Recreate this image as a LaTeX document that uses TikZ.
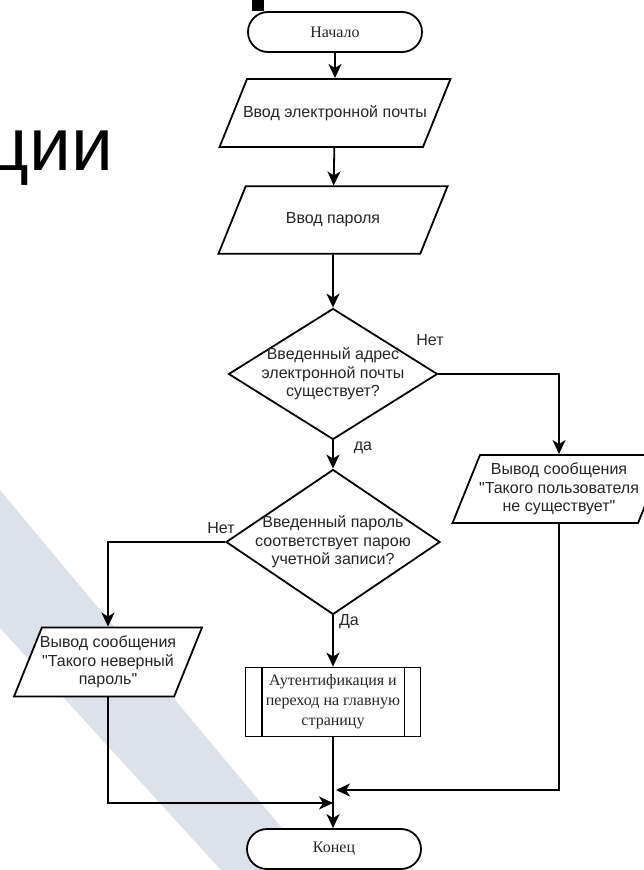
\documentclass[tikz,border=0pt]{standalone}
\usepackage{fontspec}
\setmainfont{Liberation Serif}
\newfontfamily\flowsans{Liberation Sans}
\usetikzlibrary{shapes.geometric,shapes.misc,arrows.meta}
\definecolor{stripegray}{RGB}{221,225,233}

\begin{document}
\begin{tikzpicture}[x=1pt,y=-1pt]
    \tikzstyle{box} = [draw=black, line width=1.8pt, fill=white, inner sep=2pt, align=center, text=black!85, font=\flowsans\fontsize{16}{18.5}\selectfont]
    \tikzstyle{term} = [box, rounded rectangle, minimum width=178pt, minimum height=40pt, font=\fontsize{16}{20}\selectfont]
    \tikzstyle{io} = [box, trapezium, trapezium left angle=68, trapezium right angle=112, trapezium stretches body, inner xsep=-4.5pt]
    \tikzstyle{ioone} = [io, inner ysep=26.5pt]
    \tikzstyle{iothree} = [io, inner ysep=8pt]
    \tikzstyle{decision} = [box, diamond, inner sep=0pt]
    \tikzstyle{proc} = [box, rectangle, minimum width=175pt, minimum height=69pt, font=\fontsize{16}{20}\selectfont]
    \tikzstyle{dtext} = [align=center, inner sep=0pt, text=black!85, font=\flowsans\fontsize{16}{18.5}\selectfont]
    \tikzstyle{lbl} = [inner sep=0pt, text=black!85, font=\flowsans\fontsize{16}{18}\selectfont]
    \tikzstyle{marrow} = [line width=1.8pt, -{Stealth[length=14pt,width=13pt,inset=4pt]}]

    \clip (0,0) rectangle (644,870);

    % slide background
    \fill[stripegray] (0,490) -- (317,870) -- (221,870) -- (0,628) -- cycle;
    \node[anchor=base west, inner sep=0pt, font=\flowsans\fontsize{75}{75}\selectfont] (title) at (-14,170) {ции};
    \fill (252,0) rectangle (264,11);

    % main column
    \node[term] (start) at (335,32) {Начало};
    \node[ioone, minimum width=231pt] (email) at (335,113) {Ввод электронной почты};
    \node[ioone, minimum width=229pt] (pass) at (333,220) {Ввод пароля};
    \node[decision, minimum width=209pt, minimum height=131pt] (user-ok) at (333,374) {};
    \node[dtext] (user-ok-t) at (user-ok) {Введенный адрес\\электронной почты\\существует?};
    \node[decision, minimum width=214pt, minimum height=145pt] (pass-ok) at (333,542) {};
    \node[dtext] (pass-ok-t) at (pass-ok) {Введенный пароль\\соответствует парою\\учетной записи?};
    \node[proc] (auth) at (333,702) {Аутентификация и\\переход на главную\\страницу};
    \node[term] (stop) at (334,849) {Конец};

    % side branches
    \node[iothree, minimum width=213pt] (no-user) at (559,489) {Вывод сообщения\\"Такого пользователя\\не существует"};
    \node[iothree, minimum width=188pt, inner ysep=8.5pt] (bad-pass) at (108,662) {Вывод сообщения\\"Такого неверный\\пароль"};

    \draw[line width=1.8pt] ([xshift=17pt]auth.north west) -- ([xshift=17pt]auth.south west);
    \draw[line width=1.8pt] ([xshift=-17pt]auth.north east) -- ([xshift=-17pt]auth.south east);

    \node[lbl] (no-1) at (430,340) {Нет};
    \node[lbl] (yes-1) at (363,448) {да};
    \node[lbl] (no-2) at (221,528) {Нет};
    \node[lbl] (yes-2) at (349,622) {Да};

    \coordinate (join-l) at (333,803);
    \coordinate (join-r) at (336,790);

    \draw[marrow] (start) -- (start |- email.north);
    \draw[marrow] (email) -- (pass);
    \draw[marrow] (pass) -- (user-ok);
    \draw[marrow] (user-ok) -- (pass-ok);
    \draw[marrow] (pass-ok) -- (auth);
    \draw[marrow] (auth) -- (auth |- stop.north);
    \draw[marrow] (user-ok.east) -| (no-user.north);
    \draw[marrow] (pass-ok.west) -| (bad-pass.north);
    \draw[marrow] (bad-pass.south) |- (join-l);
    \draw[marrow] (no-user.south) |- (join-r);

\end{tikzpicture}
\end{document}
